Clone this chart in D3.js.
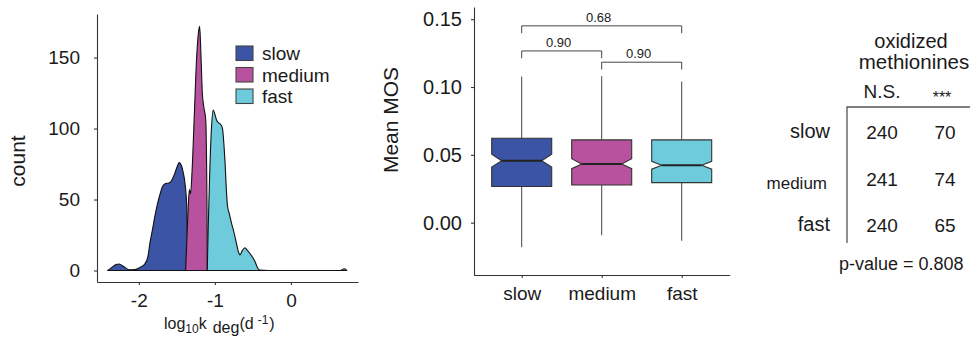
<!DOCTYPE html>
<html>
<head>
<meta charset="utf-8">
<script src="https://cdn.jsdelivr.net/npm/d3@7"></script>
<style>
  body { margin: 0; background: #fff; }
  svg { display: block; font-family: "Liberation Sans", Arial, sans-serif; }
</style>
</head>
<body>
<svg id="chart" width="970" height="339"></svg>
<script>
// ---- data ---------------------------------------------------
const groups = ['slow', 'medium', 'fast'];
const colors = ['#3b54a5', '#b9529e', '#6dcbdc'];

// density curves, [log10 kdeg, count]
const slowCurve = [[-2.41,0],[-2.36,2],[-2.3,4.2],[-2.26,4.6],[-2.2,2.8],[-2.12,0.5],[-2.05,0.6],[-1.99,2],[-1.92,4.7],
  [-1.88,10],[-1.855,19],[-1.82,29],[-1.79,38],[-1.75,48],[-1.72,54],[-1.69,59],[-1.66,61],[-1.59,62],
  [-1.53,68],[-1.49,74],[-1.47,76],[-1.44,74],[-1.42,70],[-1.39,60],[-1.37,45],[-1.36,20],[-1.355,0]];
const mediumCurve = [[-1.385,0],[-1.37,20],[-1.35,45],[-1.335,57],[-1.32,54],[-1.3,70],[-1.27,110],[-1.24,150],
  [-1.215,168],[-1.2,172],[-1.185,155],[-1.165,125],[-1.145,115],[-1.12,106],[-1.108,70],[-1.102,30],[-1.1,0]];
const fastCurve = [[-1.1,0],[-1.09,25],[-1.07,65],[-1.045,100],[-1.022,113],[-1.0,110],[-0.978,106],[-0.95,104],
  [-0.925,103],[-0.9,100],[-0.88,88],[-0.865,75],[-0.85,58],[-0.835,46],[-0.81,40],[-0.78,33],[-0.75,27],
  [-0.72,20],[-0.69,13],[-0.67,11],[-0.64,14],[-0.605,16],[-0.57,14],[-0.54,12],[-0.5,9],[-0.47,6],
  [-0.44,2],[-0.41,0.3],[-0.3,0],[0.65,0],[0.7,1.2],[0.73,0.3],[0.735,0]];
const curves = [slowCurve, mediumCurve, fastCurve];

const densXTicks = [-2, -1, 0];
const densYTicks = [0, 50, 100, 150];

// box plot stats of mean MOS
const boxLow    = [-0.0181, -0.0093, -0.0133];
const boxQ1     = [0.0266, 0.0278, 0.0295];
const boxMed    = [0.0457, 0.0433, 0.0423];
const boxQ3     = [0.0622, 0.0610, 0.0610];
const boxHigh   = [0.1077, 0.1080, 0.1040];
const notchLo   = [0.0410, 0.0398, 0.0394];
const notchHi   = [0.0505, 0.0472, 0.0452];
const boxYTicks = [0, 0.05, 0.10, 0.15];

const compFrom = ['slow', 'slow', 'medium'];
const compTo   = ['fast', 'medium', 'fast'];
const compP    = ['0.68', '0.90', '0.90'];
const compY    = [0.1451, 0.1266, 0.1183];

// table of oxidized methionines
const tableCols = ['N.S.', '***'];
const tableCounts = [[240, 70], [241, 74], [240, 65]];
const pValue = 'p-value = 0.808';

// ---- setup --------------------------------------------------
const svg = d3.select('#chart');
const ink = '#1a1a1a', lineCol = '#333';

function styleAxis(g, size) {
  g.selectAll('path.domain').attr('stroke', lineCol).attr('stroke-width', 1.1);
  g.selectAll('.tick line').attr('stroke', lineCol).attr('stroke-width', 1.1);
  g.selectAll('.tick text').attr('fill', ink).attr('font-size', size + 'px')
   .attr('font-family', '"Liberation Sans", Arial, sans-serif');
}

// ---- density panel ------------------------------------------
const dx = d3.scaleLinear().domain([-2.55, 0.882]).range([97, 358]);
const dy = d3.scaleLinear().domain([-8.1, 180.7]).range([282, 14]);

const area = d3.area()
  .x(d => dx(d[0])).y0(dy(0)).y1(d => dy(d[1]))
  .curve(d3.curveMonotoneX);

svg.append('g').selectAll('path')
  .data(curves).join('path')
  .attr('d', area)
  .attr('fill', (d, i) => colors[i])
  .attr('stroke', '#111').attr('stroke-width', 1.1)
  .attr('stroke-linejoin', 'round');

const dxAxis = svg.append('g').attr('transform', 'translate(0,282)')
  .call(d3.axisBottom(dx).tickValues(densXTicks).tickFormat(d3.format('d'))
        .tickSizeOuter(0).tickSizeInner(3).tickPadding(9));
styleAxis(dxAxis, 19);
dxAxis.selectAll('.tick text').text(d => String(d));

const dyAxis = svg.append('g').attr('transform', 'translate(97,0)')
  .call(d3.axisLeft(dy).tickValues(densYTicks).tickSizeOuter(0).tickSizeInner(3).tickPadding(14));
styleAxis(dyAxis, 19);

svg.append('text')
  .attr('transform', 'translate(25,161) rotate(-90)')
  .attr('text-anchor', 'middle').attr('font-size', '21px').attr('fill', ink)
  .text('count');

// x title with sub/superscripts
const xt = svg.append('text').attr('x', 164).attr('y', 329).attr('fill', ink).attr('font-size', '16px');
xt.append('tspan').text('log');
xt.append('tspan').attr('font-size', '12px').attr('dy', 4).text('10');
xt.append('tspan').attr('dy', -4).text('k');
xt.append('tspan').attr('dy', 4).attr('dx', 6).text('deg');
xt.append('tspan').attr('dy', -4).text('(d');
xt.append('tspan').attr('font-size', '12px').attr('dy', -5).attr('dx', 4).text('-1');
xt.append('tspan').attr('dy', 5).attr('dx', 1).text(')');

// legend
const leg = svg.append('g').attr('transform', 'translate(236,46)');
groups.forEach((g, i) => {
  leg.append('rect').attr('x', 0).attr('y', i * 21.5).attr('width', 17).attr('height', 14.5)
    .attr('fill', colors[i]).attr('stroke', '#444').attr('stroke-width', 1.1);
  leg.append('text').attr('x', 26).attr('y', i * 21.5 + 14.3)
    .attr('font-size', '19px').attr('fill', ink).text(g);
});

// ---- box plot panel -----------------------------------------
const bx = d3.scalePoint().domain(groups).range([473.7, 729.7]).padding(0.6);
const by = d3.scaleLinear().domain([-0.0386, 0.159]).range([275, 7]);
const hw = bx.step() * 0.375, inset = 10;

const byAxis = svg.append('g').attr('transform', 'translate(474,0)')
  .call(d3.axisLeft(by).tickValues(boxYTicks).tickFormat(d3.format('.2f'))
        .tickSizeOuter(0).tickSizeInner(3).tickPadding(9));
styleAxis(byAxis, 20);

const bxAxis = svg.append('g').attr('transform', 'translate(0,275)')
  .call(d3.axisBottom(bx).tickSizeOuter(0).tickSizeInner(3).tickPadding(8.5));
styleAxis(bxAxis, 19);

svg.append('text')
  .attr('transform', 'translate(398,120) rotate(-90)')
  .attr('text-anchor', 'middle').attr('font-size', '21px').attr('fill', ink)
  .text('Mean MOS');

const boxes = svg.append('g').selectAll('g').data(groups).join('g');
boxes.append('line')
  .attr('x1', d => bx(d)).attr('x2', d => bx(d))
  .attr('y1', (d, i) => by(boxHigh[i])).attr('y2', (d, i) => by(boxLow[i]))
  .attr('stroke', '#444').attr('stroke-width', 1);
boxes.append('path')
  .attr('d', (d, i) => {
    const c = bx(d);
    const pts = [
      [c - hw, by(boxQ3[i])], [c + hw, by(boxQ3[i])], [c + hw, by(notchHi[i])],
      [c + hw - inset, by(boxMed[i])], [c + hw, by(notchLo[i])], [c + hw, by(boxQ1[i])],
      [c - hw, by(boxQ1[i])], [c - hw, by(notchLo[i])], [c - hw + inset, by(boxMed[i])],
      [c - hw, by(notchHi[i])]
    ];
    return d3.line()(pts) + 'Z';
  })
  .attr('fill', (d, i) => colors[i])
  .attr('stroke', '#333').attr('stroke-width', 1.1);
boxes.append('line')
  .attr('x1', d => bx(d) - hw + inset).attr('x2', d => bx(d) + hw - inset)
  .attr('y1', (d, i) => by(boxMed[i])).attr('y2', (d, i) => by(boxMed[i]))
  .attr('stroke', '#222').attr('stroke-width', 2);

// significance brackets
const legDrop = 0.0054;
compP.forEach((p, i) => {
  const x1 = bx(compFrom[i]), x2 = bx(compTo[i]);
  const yT = by(compY[i]), yB = by(compY[i] - legDrop);
  svg.append('path')
    .attr('d', `M${x1},${yB}V${yT}H${x2}V${yB}`)
    .attr('fill', 'none').attr('stroke', '#444').attr('stroke-width', 1);
  svg.append('text')
    .attr('x', (x1 + x2) / 2 - 3).attr('y', yT - 4)
    .attr('text-anchor', 'middle').attr('font-size', '13px').attr('fill', ink)
    .text(p);
});

// ---- table panel --------------------------------------------
const tx = d3.scalePoint().domain(tableCols).range([882, 945]);
const ty = d3.scalePoint().domain(groups).range([139, 232]);

svg.append('text').attr('x', 911).attr('y', 48).attr('text-anchor', 'middle')
  .attr('font-size', '20px').attr('fill', ink).text('oxidized');
svg.append('text').attr('x', 914).attr('y', 69).attr('text-anchor', 'middle')
  .attr('font-size', '20.5px').attr('fill', ink).text('methionines');

svg.append('text').attr('x', tx('N.S.')).attr('y', 98).attr('text-anchor', 'middle')
  .attr('font-size', '19px').attr('fill', ink).text('N.S.');
svg.append('text').attr('x', tx('***') - 3).attr('y', 103).attr('text-anchor', 'middle')
  .attr('font-size', '16px').attr('fill', ink).text('***');

svg.append('path').attr('d', 'M847,243V107H970')
  .attr('fill', 'none').attr('stroke', '#555').attr('stroke-width', 1.3);

groups.forEach((g, i) => {
  svg.append('text').attr('x', g === 'medium' ? 827 : 830).attr('y', ty(g) - (g === 'medium' ? -3 : 1))
    .attr('text-anchor', 'end').attr('font-size', g === 'medium' ? '17px' : '20px')
    .attr('fill', ink).text(g);
  tableCols.forEach((c, j) => {
    svg.append('text').attr('x', tx(c)).attr('y', ty(g))
      .attr('text-anchor', 'middle').attr('font-size', '19px').attr('fill', ink)
      .text(tableCounts[i][j]);
  });
});

svg.append('text').attr('x', 839).attr('y', 270)
  .attr('font-size', '18px').attr('fill', ink).text(pValue);
</script>
</body>
</html>
